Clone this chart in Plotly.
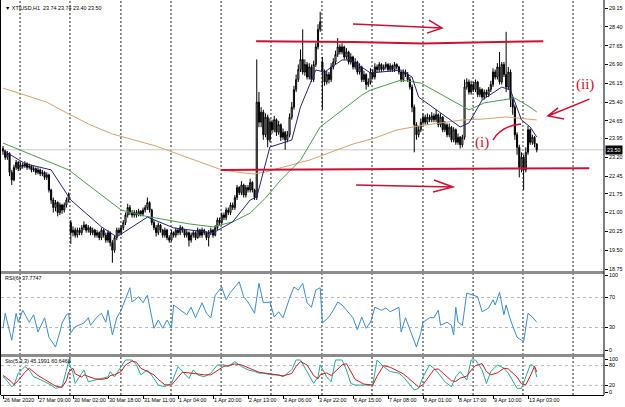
import plotly.graph_objects as go

W, H = 625, 407

# ---------------- data ----------------
bars = list(range(245))
opn = [23.55,23.45,23.20,23.35,22.60,22.30,22.80,23.00,22.75,22.90,22.85,22.95,22.80,22.85,22.70,22.75,22.60,22.70,22.55,22.60,
       22.40,22.50,21.90,21.50,21.20,21.40,21.00,21.30,21.10,21.30,21.50,20.60,20.20,20.30,20.10,20.30,20.20,20.40,20.50,20.30,
       20.40,20.20,20.30,20.10,20.20,20.00,20.30,20.10,19.90,20.20,19.80,19.50,20.00,20.30,20.20,20.40,20.60,20.90,21.20,21.00,
       20.90,21.00,20.90,21.05,20.95,21.10,21.20,21.40,21.10,20.60,20.40,20.20,20.50,20.30,20.10,20.30,20.00,19.90,20.20,20.10,
       20.30,20.20,20.40,20.30,20.10,20.20,19.90,20.10,20.20,20.00,20.30,20.10,20.30,20.20,20.00,20.20,20.30,20.10,20.40,20.70,
       20.60,20.90,20.80,21.10,21.00,21.30,21.20,21.60,22.00,21.80,22.10,21.70,22.00,21.90,22.20,21.90,21.60,25.40,24.60,25.00,
       24.10,24.80,23.90,24.60,24.30,24.70,24.20,24.50,24.00,24.20,23.90,24.10,24.80,25.20,25.90,26.30,26.70,27.10,26.60,26.90,
       26.40,26.80,26.30,26.90,27.60,28.30,27.00,26.60,26.20,26.50,26.30,26.80,27.00,27.30,27.60,27.40,27.60,27.20,27.40,27.00,
       27.20,26.80,27.00,26.60,26.80,26.30,26.50,26.10,26.20,26.60,26.40,26.80,26.70,26.90,26.70,26.80,26.90,26.70,26.85,26.70,
       26.90,26.80,26.60,26.30,26.60,26.50,26.30,26.00,25.20,24.50,24.10,24.30,24.60,24.80,24.60,24.80,24.70,24.85,24.70,24.90,
       24.50,24.80,24.30,24.50,24.10,24.40,23.90,24.30,23.80,24.00,23.70,24.00,26.00,26.20,25.80,26.10,25.90,26.20,25.70,25.90,
       25.60,25.80,25.70,25.90,26.10,26.60,26.40,26.80,26.20,26.90,26.50,26.00,26.60,25.50,25.20,24.10,23.60,22.80,23.20,22.70,
       23.40,24.30,23.80,24.00,23.74]
cls = [23.45,23.20,23.35,22.60,22.30,22.80,23.00,22.75,22.90,22.85,22.95,22.80,22.85,22.70,22.75,22.60,22.70,22.55,22.60,22.40,
       22.50,21.90,21.50,21.20,21.40,21.00,21.30,21.10,21.30,21.50,21.70,20.20,20.30,20.10,20.30,20.20,20.40,20.50,20.30,20.40,
       20.20,20.30,20.10,20.20,20.00,20.30,20.10,19.90,20.20,19.80,19.50,20.00,20.30,20.20,20.40,20.60,20.90,21.20,21.00,20.90,
       21.00,20.90,21.05,20.95,21.10,21.20,21.40,21.10,20.60,20.40,20.20,20.50,20.30,20.10,20.30,20.00,19.90,20.20,20.10,20.30,
       20.20,20.40,20.30,20.10,20.20,19.90,20.10,20.20,20.00,20.30,20.10,20.30,20.20,20.00,20.20,20.30,20.10,20.40,20.70,20.60,
       20.90,20.80,21.10,21.00,21.30,21.20,21.60,22.00,21.80,22.10,21.70,22.00,21.90,22.20,21.90,21.60,25.40,24.60,25.00,24.10,
       24.80,23.90,24.60,24.30,24.70,24.20,24.50,24.00,24.20,23.90,24.10,24.80,25.20,25.90,26.30,26.70,27.10,26.60,26.90,26.40,
       26.80,26.30,26.90,27.60,28.30,28.60,26.60,26.20,26.50,26.30,26.80,27.00,27.30,27.60,27.40,27.60,27.20,27.40,27.00,27.20,
       26.80,27.00,26.60,26.80,26.30,26.50,26.10,26.20,26.60,26.40,26.80,26.70,26.90,26.70,26.80,26.90,26.70,26.85,26.70,26.90,
       26.80,26.60,26.30,26.60,26.50,26.30,26.00,25.20,24.50,24.10,24.30,24.60,24.80,24.60,24.80,24.70,24.85,24.70,24.90,24.50,
       24.80,24.30,24.50,24.10,24.40,23.90,24.30,23.80,24.00,23.70,24.00,26.00,26.20,25.80,26.10,25.90,26.20,25.70,25.90,25.60,
       25.80,25.70,25.90,26.10,26.60,26.40,26.80,26.20,26.90,26.50,26.00,26.60,25.50,25.20,24.10,23.60,22.80,23.20,22.70,23.40,
       24.30,23.80,24.00,23.74,23.50]
hig = [23.65,23.50,23.45,23.40,22.70,22.90,23.10,23.05,23.00,22.98,23.05,23.00,22.95,22.90,22.85,22.80,22.80,22.75,22.70,22.65,
       22.60,22.55,21.95,21.60,21.50,21.45,21.40,21.35,21.40,21.60,21.80,20.70,20.45,20.40,20.40,20.40,20.50,20.65,20.55,20.50,
       20.45,20.40,20.35,20.30,20.25,20.40,20.35,20.20,20.30,20.25,19.90,20.10,20.40,20.40,20.50,20.70,21.00,21.35,21.30,21.10,
       21.10,21.10,21.15,21.10,21.20,21.30,21.60,21.45,21.15,20.70,20.50,20.60,20.55,20.35,20.40,20.35,20.10,20.30,20.25,20.40,
       20.35,20.50,20.45,20.35,20.30,20.25,20.20,20.30,20.25,20.40,20.35,20.40,20.35,20.25,20.30,20.40,20.35,20.50,20.80,20.80,
       21.00,21.00,21.20,21.20,21.40,21.40,21.70,22.10,22.05,22.25,22.15,22.10,22.10,22.35,22.25,21.95,27.10,25.80,25.20,25.10,
       24.95,24.90,24.75,24.70,24.85,24.75,24.65,24.55,24.35,24.25,24.25,24.95,25.40,26.05,26.50,26.90,27.50,28.30,27.10,27.00,
       26.95,26.90,27.05,27.75,28.50,29.00,27.20,26.70,26.65,26.60,26.95,27.15,27.45,27.95,27.70,27.75,27.65,27.55,27.45,27.35,
       27.25,27.15,27.05,26.95,26.85,26.65,26.55,26.35,26.75,26.70,26.95,26.90,27.00,26.95,26.90,27.00,26.95,26.95,26.90,27.00,
       26.95,26.85,26.65,26.70,26.70,26.60,26.40,26.10,25.30,24.60,24.45,24.75,24.95,24.90,24.95,24.90,25.00,24.95,25.10,24.95,
       24.95,24.85,24.65,24.55,24.55,24.45,24.40,24.35,24.15,24.05,24.10,26.30,26.35,26.30,26.25,26.20,26.30,26.25,26.00,25.95,
       25.90,25.90,26.00,26.25,26.75,26.70,26.95,27.40,27.00,27.00,28.20,26.80,26.70,25.60,25.30,24.20,23.70,23.40,23.30,23.60,
       24.45,24.35,24.10,24.05,23.74]
low = [23.30,23.10,23.10,22.45,22.10,22.25,22.70,22.65,22.70,22.75,22.78,22.70,22.72,22.60,22.62,22.50,22.52,22.45,22.45,22.30,
       22.30,21.80,21.35,21.00,21.05,20.85,20.90,20.95,21.00,21.20,21.40,19.75,20.05,20.00,20.00,20.10,20.10,20.30,20.20,20.20,
       20.10,20.10,20.00,20.00,19.90,19.90,20.00,19.80,19.80,19.65,19.00,19.40,19.90,20.10,20.10,20.30,20.50,20.80,20.90,20.80,
       20.80,20.80,20.85,20.85,20.85,21.00,21.10,21.00,20.50,20.30,20.05,20.10,20.20,20.00,20.00,19.90,19.80,19.85,20.00,20.00,
       20.10,20.10,20.20,20.00,20.00,19.65,19.80,20.00,19.90,19.95,20.00,20.00,20.10,19.90,19.65,20.10,20.00,20.05,20.30,20.50,
       20.50,20.70,20.70,20.90,20.90,21.10,21.10,21.50,21.70,21.70,21.60,21.60,21.80,21.80,21.80,21.50,21.50,24.40,24.40,23.90,
       24.00,23.60,23.80,24.15,24.20,24.05,24.10,23.85,23.90,23.50,23.80,24.00,24.70,25.10,25.80,26.20,26.60,26.50,26.45,26.30,
       26.30,26.20,26.20,26.80,27.50,28.20,25.10,26.05,26.10,26.15,26.20,26.70,26.90,27.20,27.30,27.30,27.10,27.10,26.90,26.90,
       26.70,26.70,26.50,26.50,26.20,26.20,25.90,26.00,26.10,26.30,26.30,26.60,26.60,26.60,26.65,26.70,26.60,26.60,26.60,26.60,
       26.70,26.50,26.20,26.20,26.40,26.20,25.90,25.00,23.40,23.90,24.00,24.20,24.50,24.50,24.50,24.60,24.60,24.60,24.60,24.40,
       24.40,24.20,24.20,24.00,24.00,23.80,23.80,23.70,23.70,23.55,23.60,23.90,25.90,25.70,25.70,25.80,25.80,25.60,25.60,25.50,
       25.50,25.60,25.60,25.80,26.00,26.30,26.30,26.10,26.10,26.40,25.80,25.90,25.20,24.90,23.90,23.30,22.40,22.60,21.90,22.60,
       23.30,23.70,23.70,23.60,23.40]

# moving averages (bar index, value)
ma_fast_b = [0,10,22,31,45,52,66,78,96,105,113,116,122,132,136,143,147,155,159,168,182,187,190,200,209,213,219,228,232,237,241,244]
ma_fast_v = [23.49,22.95,22.70,21.50,20.43,20.03,20.82,20.39,20.19,20.63,21.50,21.62,23.61,23.89,25.21,26.68,26.60,27.08,27.08,26.56,
             26.68,26.40,25.60,24.97,24.41,24.57,25.48,26.00,25.88,24.69,24.41,24.01]
ma_mid_b = [0,8,30,42,54,65,75,85,96,105,113,120,127,136,145,155,164,168,182,191,200,205,213,220,228,234,240,244]
ma_mid_v = [23.77,23.49,22.70,21.90,21.10,20.86,20.70,20.55,20.43,20.63,20.98,21.58,22.30,23.09,24.41,25.09,25.68,25.88,26.28,26.16,
            25.72,25.48,25.09,25.37,25.48,25.56,25.25,25.01]
ma_slow_b = [0,10,20,30,40,50,60,70,80,90,100,110,115,120,130,140,150,160,170,180,190,200,210,220,230,244]
ma_slow_v = [25.96,25.68,25.40,24.93,24.49,24.13,23.89,23.65,23.33,23.01,22.70,22.58,22.54,22.62,22.86,23.09,23.41,23.73,23.97,24.29,
             24.45,24.57,24.69,24.73,24.81,24.69]

rsi_b = [0,1,4,6,7,9,12,14,16,19,21,24,26,27,29,30,31,33,37,39,40,43,45,47,48,50,52,54,58,59,62,64,66,69,71,73,75,77,78,81,
         84,86,88,91,93,95,97,100,102,104,108,110,112,115,117,118,119,122,124,126,128,131,133,135,137,139,141,143,145,146,
         149,151,153,155,158,160,162,164,166,168,170,173,175,177,181,182,184,187,189,191,192,195,197,199,200,203,205,206,207,208,
         210,212,215,217,219,222,224,225,227,229,230,232,235,237,238,240,242,244]
rsi_v = [29,49,13,49,37,53,37,47,24,43,17,4,24,36,47,49,23,31,36,43,33,44,49,37,53,20,43,53,83,64,71,63,73,29,40,29,40,29,60,53,
         47,57,43,63,49,43,73,84,67,77,91,71,64,49,89,76,63,64,44,51,43,69,84,80,89,63,57,80,83,36,
         44,53,64,60,49,43,27,44,29,37,57,53,56,51,57,24,43,20,4,23,37,43,43,53,33,37,33,20,57,37,
         33,76,73,71,51,56,67,60,77,47,60,40,17,13,11,49,44,37]

sto_b = [0,1,4,5,7,10,12,14,16,19,22,24,27,29,30,32,33,36,37,39,42,45,48,49,51,54,56,59,61,63,66,69,71,74,77,80,82,85,87,89,
         92,95,98,101,103,106,109,112,115,117,119,123,126,128,132,134,136,139,142,144,145,148,150,152,155,157,159,161,165,169,
         171,174,177,181,183,185,188,190,192,195,197,199,202,205,207,209,212,214,216,219,221,223,226,229,231,235,237,239,241,242,243,244]
sto_main = [46,41,16,21,57,77,67,46,41,31,21,11,16,67,92,57,26,57,67,31,36,41,46,62,46,77,97,97,82,52,67,41,21,16,26,77,62,41,67,52,
            46,57,82,82,77,92,77,67,62,57,57,52,52,46,67,97,97,62,26,46,82,46,31,97,97,67,26,21,21,21,
            97,77,62,57,46,31,6,11,46,82,72,57,31,16,46,62,36,97,97,67,26,62,82,72,57,11,11,46,82,82,75,45]
sto_sig = [50,46,30,22,35,60,72,62,50,38,27,18,14,35,60,72,55,45,52,48,40,38,42,50,52,62,82,94,90,72,62,52,38,22,21,45,60,58,56,56,
           52,52,66,78,80,85,82,74,66,60,58,54,52,49,56,78,92,82,50,40,52,58,50,62,82,86,60,38,24,21,
           48,80,75,62,55,44,25,15,22,50,68,70,52,34,32,42,48,66,80,86,62,52,58,72,70,45,25,22,48,66,78,61]

tick_bars = [0,16,32,48,64,80,96,112,128,144,160,176,192,208,224,240]
tick_text = ["26 Mar 2020","27 Mar 09:00","30 Mar 02:00","30 Mar 18:00","31 Mar 11:00","1 Apr 04:00","1 Apr 20:00",
             "2 Apr 13:00","3 Apr 06:00","3 Apr 22:00","6 Apr 15:00","7 Apr 08:00","8 Apr 01:00","8 Apr 17:00",
             "9 Apr 10:00","13 Apr 03:00"]
price_ticks = [29.15,28.40,27.65,26.90,26.15,25.40,24.65,23.95,23.20,22.45,21.75,21.00,20.25,19.50,18.75]
last_price = 23.50

# ---------------- layout helpers ----------------
def py(px):
    return 1 - px / H

FONT = "Liberation Sans, Arial, sans-serif"
FS = 5.4
RED = "#cc1133"

fig = go.Figure()
fig.add_trace(go.Candlestick(
    x=bars, open=opn, high=hig, low=low, close=cls,
    increasing=dict(line=dict(color="black", width=1), fillcolor="white"),
    decreasing=dict(line=dict(color="black", width=1), fillcolor="black"),
    whiskerwidth=0, hoverinfo="skip", xaxis="x", yaxis="y", showlegend=False))
fig.add_trace(go.Scatter(x=ma_slow_b, y=ma_slow_v, mode="lines", line=dict(color="#d4a26e", width=1),
                         xaxis="x", yaxis="y", showlegend=False, hoverinfo="skip"))
fig.add_trace(go.Scatter(x=ma_mid_b, y=ma_mid_v, mode="lines", line=dict(color="#4f9a4f", width=1),
                         xaxis="x", yaxis="y", showlegend=False, hoverinfo="skip"))
fig.add_trace(go.Scatter(x=ma_fast_b, y=ma_fast_v, mode="lines", line=dict(color="#24247a", width=1),
                         xaxis="x", yaxis="y", showlegend=False, hoverinfo="skip"))
fig.add_trace(go.Scatter(x=rsi_b, y=rsi_v, mode="lines", line=dict(color="#3d8ccc", width=1),
                         xaxis="x", yaxis="y2", showlegend=False, hoverinfo="skip"))
fig.add_trace(go.Scatter(x=sto_b, y=sto_main, mode="lines", line=dict(color="#2aa89a", width=1),
                         xaxis="x", yaxis="y3", showlegend=False, hoverinfo="skip"))
fig.add_trace(go.Scatter(x=sto_b, y=sto_sig, mode="lines", line=dict(color="#c81e1e", width=1),
                         xaxis="x", yaxis="y3", showlegend=False, hoverinfo="skip"))

X0, X1 = 1 / W, 604 / W
bar_px = 2.1875
xr = [-2 / bar_px, (604 - 3) / bar_px]

tickfont = dict(family=FONT, size=FS, color="black")
fig.update_layout(
    width=W, height=H, margin=dict(l=0, r=0, t=0, b=0, autoexpand=False),
    paper_bgcolor="white", plot_bgcolor="white", showlegend=False,
    xaxis=dict(domain=[X0, X1], range=xr, anchor="y3", showgrid=False, zeroline=False,
               showline=True, linecolor="black", linewidth=1, automargin=False,
               tickvals=tick_bars, ticktext=tick_text, ticks="outside", ticklen=3, tickcolor="black",
               ticklabelposition="outside right", tickangle=0, tickfont=tickfont,
               rangeslider=dict(visible=False), fixedrange=True),
    yaxis=dict(domain=[py(271), 1], range=[29.15 - 263 / 25.1, 29.15 + 8 / 25.1], anchor="x", side="right",
               showgrid=False, zeroline=False, showline=False, tickvals=price_ticks, automargin=False,
               ticktext=[f"{v:.2f}" for v in price_ticks], ticks="outside", ticklen=3, tickcolor="black",
               tickfont=tickfont, fixedrange=True),
    yaxis2=dict(domain=[py(354), py(274)], range=[-4 / 0.75, 100 + 1 / 0.75], anchor="x", side="right",
                showgrid=False, zeroline=False, tickvals=[100, 70, 30, 0], ticks="outside", ticklen=3,
                automargin=False, tickcolor="black", tickfont=tickfont, fixedrange=True),
    yaxis3=dict(domain=[py(395), py(357)], range=[-3 / 0.33, 100 + 2 / 0.33], anchor="x", side="right",
                showgrid=False, zeroline=False, tickvals=[100, 80, 20, 0], ticks="outside", ticklen=3,
                automargin=False, tickcolor="black", tickfont=tickfont, fixedrange=True),
)

shapes = []
# vertical dotted grid
grid_bars = [7.8, 30.6, 53.9, 76.8, 99.7, 122.5, 145.8, 168.7, 192.0, 214.9, 237.7, 260.6]
for g in grid_bars:
    shapes.append(dict(type="line", xref="x", yref="paper", x0=g, x1=g, y0=py(395), y1=1,
                       line=dict(color="#202020", width=1, dash="2px,2px"), layer="below"))
# level lines
for lv in (70, 30):
    shapes.append(dict(type="line", xref="paper", yref="y2", x0=X0, x1=X1, y0=lv, y1=lv,
                       line=dict(color="#b8b8b8", width=1, dash="3px,3px"), layer="below"))
for lv in (80, 20):
    shapes.append(dict(type="line", xref="paper", yref="y3", x0=X0, x1=X1, y0=lv, y1=lv,
                       line=dict(color="#b8b8b8", width=1, dash="3px,3px"), layer="below"))
# bid line
shapes.append(dict(type="line", xref="paper", yref="y", x0=X0, x1=X1, y0=last_price, y1=last_price,
                   line=dict(color="#c8c8c8", width=1), layer="below"))
# separators
shapes.append(dict(type="rect", xref="paper", yref="paper", x0=0, x1=X1, y0=py(274), y1=py(271),
                   fillcolor="#8c8c8c", line=dict(width=0), layer="above"))
shapes.append(dict(type="rect", xref="paper", yref="paper", x0=0, x1=X1, y0=py(357), y1=py(354),
                   fillcolor="#8c8c8c", line=dict(width=0), layer="above"))
# frame lines
shapes.append(dict(type="line", xref="paper", yref="paper", x0=X1, x1=X1, y0=py(395), y1=1,
                   line=dict(color="black", width=1), layer="above"))
shapes.append(dict(type="line", xref="paper", yref="paper", x0=0.5 / W, x1=0.5 / W, y0=py(395), y1=1,
                   line=dict(color="black", width=1), layer="above"))

# hand-drawn red annotations (bar index, price)
red = dict(color=RED, width=2)
shapes.append(dict(type="path", xref="x", yref="y", path="M 115.7,27.83 L 160,27.80 L 192,27.74 L 247,27.83",
                   line=red, layer="above"))
shapes.append(dict(type="line", xref="x", yref="y", x0=99.7, y0=22.70, x1=268, y1=22.77, line=red, layer="above"))
shapes.append(dict(type="path", xref="x", yref="y",
                   path="M 160,28.51 L 200.7,28.35 M 194.7,28.67 L 200.7,28.35 L 193.8,28.15",
                   line=dict(color=RED, width=1.5), layer="above"))
shapes.append(dict(type="path", xref="x", yref="y",
                   path="M 161.4,22.10 L 205.7,22.02 M 197.0,22.30 L 205.7,22.02 L 196.6,21.82",
                   line=dict(color=RED, width=1.5), layer="above"))
shapes.append(dict(type="path", xref="x", yref="y", path="M 224,23.89 Q 227.7,24.45 236.8,24.53",
                   line=dict(color=RED, width=1.5), layer="above"))
shapes.append(dict(type="path", xref="x", yref="y",
                   path="M 268.1,25.52 L 249.1,24.85 M 253.7,25.17 L 249.1,24.85 L 256.5,24.73",
                   line=dict(color=RED, width=1.5), layer="above"))
fig.update_layout(shapes=shapes)

ann = []
ann.append(dict(xref="paper", yref="paper", x=3 / W, y=py(8), xanchor="left", yanchor="middle",
                text="▼ XTIUSD,H1  23.74 23.74 23.40 23.50", showarrow=False,
                font=dict(family=FONT, size=FS, color="black")))
ann.append(dict(xref="paper", yref="paper", x=3 / W, y=py(278), xanchor="left", yanchor="middle",
                text="RSI(6) 37.7747", showarrow=False, font=dict(family=FONT, size=FS, color="black")))
ann.append(dict(xref="paper", yref="paper", x=3 / W, y=py(361), xanchor="left", yanchor="middle",
                text="Sto(5,3,3) 45.1991 60.6468", showarrow=False, font=dict(family=FONT, size=FS, color="black")))
ann.append(dict(xref="paper", yref="y", x=X1 + 1 / W, y=last_price, xanchor="left", yanchor="middle",
                text="23.50", showarrow=False, bgcolor="black", borderpad=1,
                font=dict(family=FONT, size=FS, color="white")))
ann.append(dict(xref="x", yref="y", x=219, y=23.81, text="(i)", showarrow=False,
                font=dict(family="Liberation Serif, serif", size=15, color=RED)))
ann.append(dict(xref="x", yref="y", x=266, y=26.12, text="(ii)", showarrow=False,
                font=dict(family="Liberation Serif, serif", size=15, color=RED)))
fig.update_layout(annotations=ann)

fig.write_html("out.html")
